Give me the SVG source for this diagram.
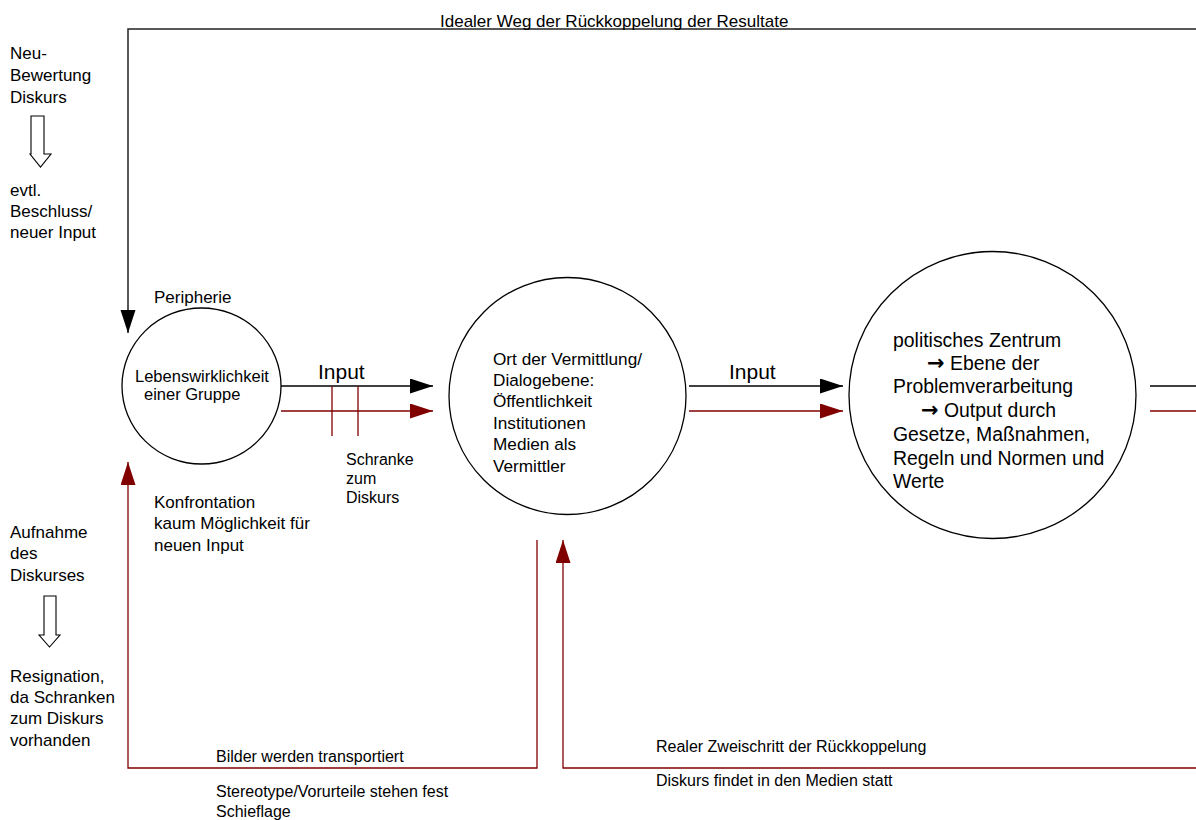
<svg xmlns="http://www.w3.org/2000/svg" width="1196" height="820" viewBox="0 0 1196 820">
<style>
text{font-family:"Liberation Sans",Arial,sans-serif;fill:#000}
.t17{font-size:17px}
.t16{font-size:16px}
.c1{font-size:16.5px}
.c2{font-size:17.2px}
.c3{font-size:19.4px}
.arr{font-family:"DejaVu Sans",sans-serif;font-size:21px;font-weight:bold}
.inp{font-size:21px}
.blk{stroke:#000;stroke-width:1.3;fill:none}
.top{stroke:#222;stroke-width:1.5;fill:none}
.red{stroke:#800000;stroke-width:1.3;fill:none}
.node{fill:#fff;stroke:#000;stroke-width:1.3}
.hollow{fill:#fff;stroke:#000;stroke-width:1.1}
</style>
<defs>
<marker id="ab" markerUnits="userSpaceOnUse" markerWidth="24" markerHeight="16" refX="23" refY="7.5" orient="auto"><path d="M0,0 L23,7.5 L0,15 z" fill="#000"/></marker>
<marker id="ar" markerUnits="userSpaceOnUse" markerWidth="24" markerHeight="16" refX="23" refY="7.5" orient="auto"><path d="M0,0 L23,7.5 L0,15 z" fill="#800000"/></marker>
</defs>
<rect width="1196" height="820" fill="#fff"/>

<g id="connectors">
<path class="top" d="M1196,29 H128 V333" marker-end="url(#ab)"/>
<line class="blk" x1="281" y1="386" x2="433" y2="386" marker-end="url(#ab)"/>
<line class="red" x1="281" y1="411" x2="433" y2="411" marker-end="url(#ar)"/>
<line class="red" x1="332" y1="386" x2="332" y2="436"/>
<line class="red" x1="358" y1="386" x2="358" y2="436"/>
<line class="blk" x1="689" y1="386" x2="843" y2="386" marker-end="url(#ab)"/>
<line class="red" x1="689" y1="411" x2="843" y2="411" marker-end="url(#ar)"/>
<line class="blk" x1="1150" y1="386" x2="1196" y2="386"/>
<line class="red" x1="1150" y1="411" x2="1196" y2="411"/>
<path class="red" d="M537,540 V768 H128 V462" marker-end="url(#ar)"/>
<path class="red" d="M1196,768 H563 V540" marker-end="url(#ar)"/>
</g>

<g id="hollow-arrow-1"><path class="hollow" d="M31,116 H44 V154 H51 L40.5,167 L30,154 H31 Z"/></g>
<g id="hollow-arrow-2"><path class="hollow" d="M44,596 H56 V635 H60 L49.5,647 L39,635 H44 Z"/></g>

<g id="node-peripherie">
<ellipse class="node" cx="201.5" cy="386" rx="79.5" ry="78"/>
<text class="c1" x="135" y="382">Lebenswirklichkeit</text>
<text class="c1" x="144" y="400">einer Gruppe</text>
</g>
<g id="node-vermittlung">
<circle class="node" cx="567.5" cy="396" r="118.5"/>
<text class="c2" x="493" y="365">Ort der Vermittlung/</text>
<text class="c2" x="493" y="386">Dialogebene:</text>
<text class="c2" x="493" y="407">Öffentlichkeit</text>
<text class="c2" x="493" y="429">Institutionen</text>
<text class="c2" x="493" y="450">Medien als</text>
<text class="c2" x="493" y="472">Vermittler</text>
</g>
<g id="node-zentrum">
<circle class="node" cx="992.5" cy="395" r="143.5"/>
<text class="c3" x="893" y="347">politisches Zentrum</text>
<text class="c3" x="927" y="370"><tspan class="arr">→</tspan> Ebene der</text>
<text class="c3" x="893" y="393">Problemverarbeitung</text>
<text class="c3" x="921" y="417"><tspan class="arr">→</tspan> Output durch</text>
<text class="c3" x="893" y="441">Gesetze, Maßnahmen,</text>
<text class="c3" x="893" y="465">Regeln und Normen und</text>
<text class="c3" x="893" y="488">Werte</text>
</g>

<g id="labels">
<text class="t17" x="440" y="27">Idealer Weg der Rückkoppelung der Resultate</text>
<text class="t17" x="10" y="59">Neu-</text>
<text class="t17" x="10" y="81">Bewertung</text>
<text class="t17" x="10" y="103">Diskurs</text>
<text class="t17" x="10" y="196">evtl.</text>
<text class="t17" x="10" y="217">Beschluss/</text>
<text class="t17" x="10" y="238">neuer Input</text>
<text class="t17" x="154" y="303">Peripherie</text>
<text class="inp" x="318" y="379">Input</text>
<text class="inp" x="729" y="379">Input</text>
<text class="t16" x="346" y="465">Schranke</text>
<text class="t16" x="346" y="484">zum</text>
<text class="t16" x="346" y="503">Diskurs</text>
<text class="t17" x="154" y="508">Konfrontation</text>
<text class="t17" x="154" y="529">kaum Möglichkeit für</text>
<text class="t17" x="154" y="551">neuen Input</text>
<text class="t17" x="10" y="538">Aufnahme</text>
<text class="t17" x="10" y="559">des</text>
<text class="t17" x="10" y="581">Diskurses</text>
<text class="t17" x="10" y="682">Resignation,</text>
<text class="t17" x="10" y="703">da Schranken</text>
<text class="t17" x="10" y="724">zum Diskurs</text>
<text class="t17" x="10" y="746">vorhanden</text>
<text class="t16" x="216" y="762">Bilder werden transportiert</text>
<text class="t16" x="216" y="797">Stereotype/Vorurteile stehen fest</text>
<text class="t16" x="216" y="817">Schieflage</text>
<text class="t16" x="656" y="752">Realer Zweischritt der Rückkoppelung</text>
<text class="t16" x="656" y="786">Diskurs findet in den Medien statt</text>
</g>
</svg>
